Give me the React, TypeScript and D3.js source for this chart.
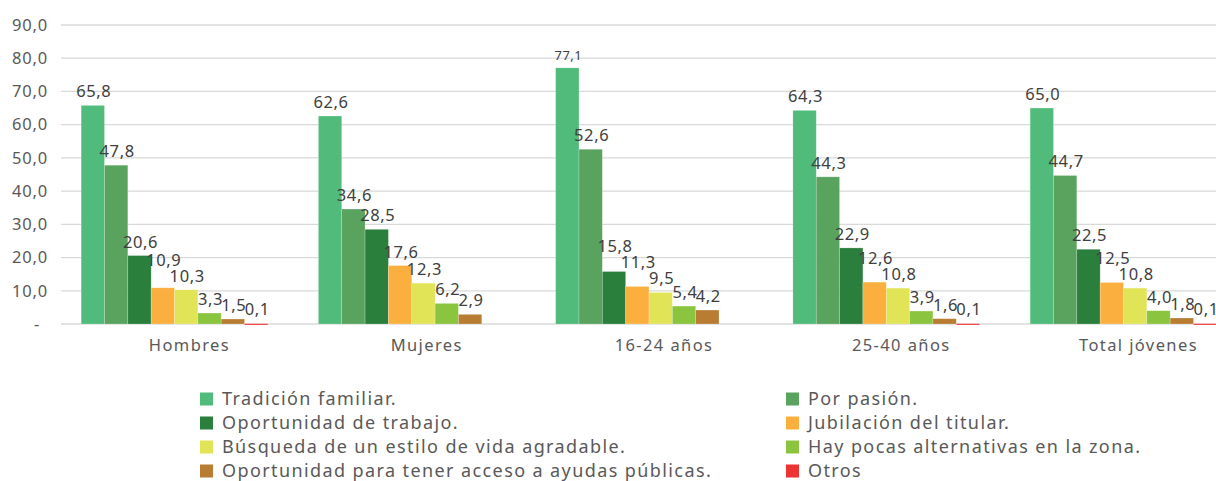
import React from "react";
import * as d3 from "d3";

const categories = ["Hombres", "Mujeres", "16-24 años", "25-40 años", "Total jóvenes"];

const seriesNames = [
  "Tradición familiar.",
  "Por pasión.",
  "Oportunidad de trabajo.",
  "Jubilación del titular.",
  "Búsqueda de un estilo de vida agradable.",
  "Hay pocas alternativas en la zona.",
  "Oportunidad para tener acceso a ayudas públicas.",
  "Otros",
];

const tradicion = [65.8, 62.6, 77.1, 64.3, 65.0];
const pasion = [47.8, 34.6, 52.6, 44.3, 44.7];
const trabajo = [20.6, 28.5, 15.8, 22.9, 22.5];
const jubilacion = [10.9, 17.6, 11.3, 12.6, 12.5];
const busqueda = [10.3, 12.3, 9.5, 10.8, 10.8];
const pocas = [3.3, 6.2, 5.4, 3.9, 4.0];
const ayudas = [1.5, 2.9, 4.2, 1.6, 1.8];
const otros: (number | null)[] = [0.1, null, null, 0.1, 0.1];

const seriesValues: (number | null)[][] = [tradicion, pasion, trabajo, jubilacion, busqueda, pocas, ayudas, otros];

const colors = ["#50BB7A", "#5AA35F", "#2A7F3D", "#FBAF3F", "#E1E456", "#8BC53F", "#B87D33", "#EE3333"];

const yTicks = [0, 10, 20, 30, 40, 50, 60, 70, 80, 90];

const W = 1216;
const H = 481;
const FONT = "'Noto Sans', 'Open Sans', sans-serif";

const fmt = (v: number) => v.toFixed(1).replace(".", ",");
const labelWidth = (s: string) => {
  let w = 0;
  for (const ch of s) w += ch === "," ? 4.9 : 10;
  return w;
};

export default function App() {
  const plotLeft = 61;
  const y = d3.scaleLinear().domain([0, 90]).range([324, 25]);
  const x0 = d3.scaleBand().domain(categories).range([56, 1242]).paddingInner(0.213).paddingOuter(0.106);
  const x1 = d3.scaleBand().domain(seriesNames).range([0, x0.bandwidth()]);
  const bw = x1.bandwidth();

  return (
    <svg width={W} height={H} style={{ position: "absolute", left: 0, top: 0, background: "#fff" }} fontFamily={FONT}>
      {yTicks.map((t) => (
        <g key={t}>
          <line x1={plotLeft} x2={W} y1={y(t)} y2={y(t)} stroke="#D9D9D9" strokeWidth={1.3} />
          <text
            x={t === 0 ? 40 : 48}
            y={y(t)}
            dy="0.35em"
            textAnchor="end"
            fontSize={16.5}
            letterSpacing={0.8}
            fill="#595959"
          >
            {t === 0 ? "-" : fmt(t)}
          </text>
        </g>
      ))}
      {categories.map((c, ci) => {
        // label layout: default above bar, lifted when colliding with right neighbour
        const items = seriesValues
          .map((vals, si) => ({ si, v: vals[ci] }))
          .filter((d) => d.v !== null) as { si: number; v: number }[];
        const base = items.map((d) => Math.min(y(d.v), y(0) - 1.3) - 8);
        for (let i = items.length - 2; i >= 0; i--) {
          const a = fmt(items[i].v);
          const b = fmt(items[i + 1].v);
          const half = (labelWidth(a) + labelWidth(b)) / 2;
          if (half > bw + 4 && base[i] > base[i + 1] - 16) base[i] = base[i + 1] - 16;
        }
        return (
          <g key={c} transform={`translate(${x0(c)},0)`}>
            {items.map((d) => {
              const bx = x1(seriesNames[d.si])!;
              const top = y(d.v);
              return (
                <rect
                  key={"r" + d.si}
                  x={bx}
                  y={top}
                  width={bw}
                  height={Math.max(y(0) - top, 1.3)}
                  fill={colors[d.si]}
                  stroke="#ffffff"
                  strokeOpacity={0.35}
                  strokeWidth={0.6}
                />
              );
            })}
            {items.map((d, k) => {
              const bx = x1(seriesNames[d.si])!;
              return (
                <text
                  key={"t" + d.si}
                  x={bx + bw / 2 + 1}
                  y={base[k]}
                  textAnchor="middle"
                  fontSize={d.v > 75 ? 13 : 16.5}
                  letterSpacing={d.v > 75 ? 0.4 : 0.6}
                  fill="#404040"
                >
                  {fmt(d.v)}
                </text>
              );
            })}
            <text
              x={x0.bandwidth() / 2 + 15}
              y={351}
              textAnchor="middle"
              fontSize={16.5}
              letterSpacing={1.4}
              fill="#595959"
            >
              {c}
            </text>
          </g>
        );
      })}
      {seriesNames.map((s, i) => {
        const col = i % 2;
        const row = Math.floor(i / 2);
        const lx = col === 0 ? 200 : 786;
        const ly = 399 + row * 24;
        return (
          <g key={s}>
            <rect x={lx} y={ly - 6.5} width={13} height={13} fill={colors[i]} />
            <text x={lx + 22} y={ly} dy="0.35em" fontSize={18} letterSpacing={1.4} fill="#595959">
              {s}
            </text>
          </g>
        );
      })}
    </svg>
  );
}
